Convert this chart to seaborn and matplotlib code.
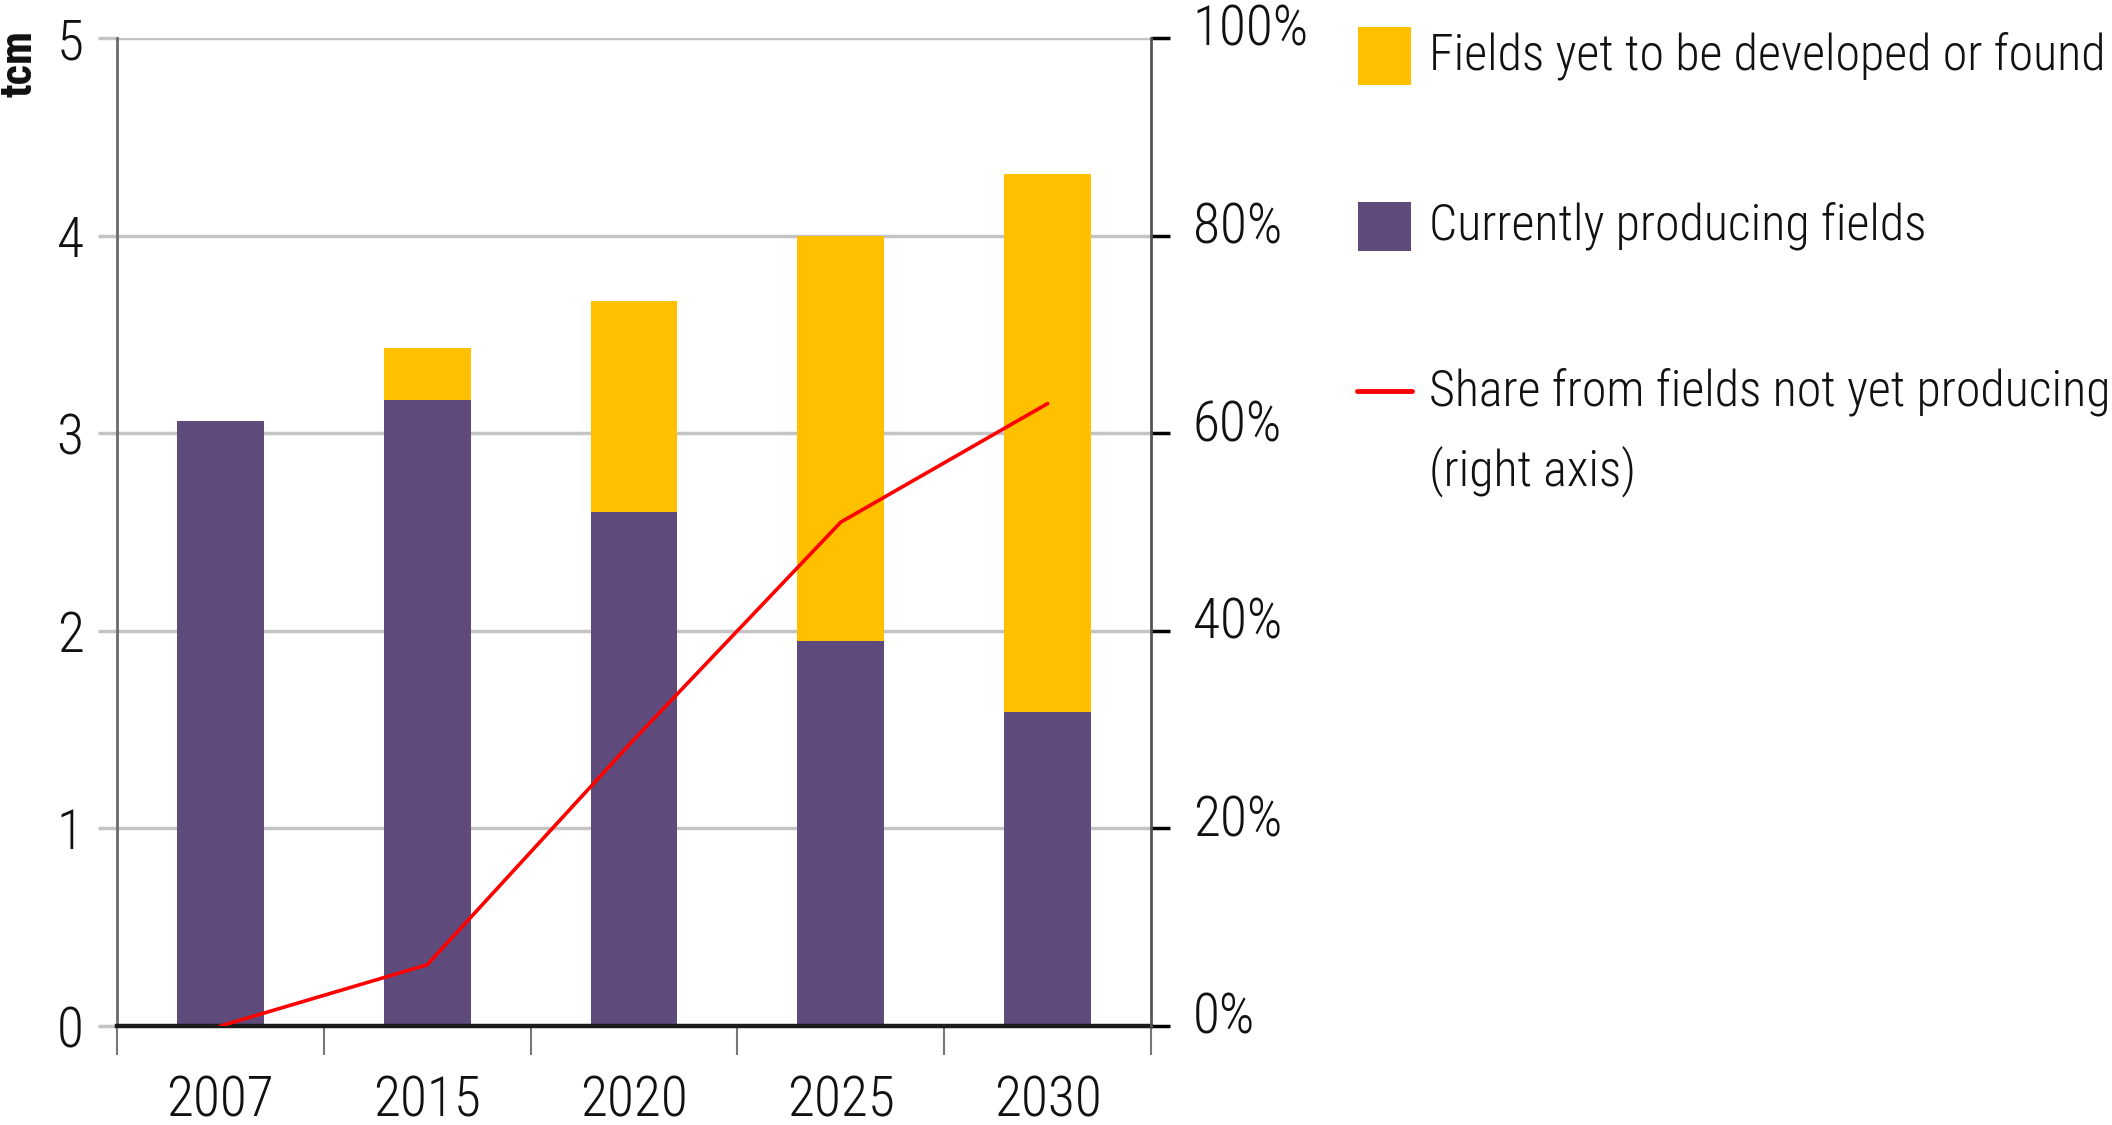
import numpy as np
import pandas as pd
import matplotlib
matplotlib.use('Agg')
import matplotlib.pyplot as plt
import seaborn as sns
from matplotlib.patches import Rectangle
from matplotlib.lines import Line2D
from matplotlib.ticker import PercentFormatter, FixedLocator
from matplotlib.transforms import ScaledTranslation

# values (tcm, share as fraction)
years = ['2007', '2015', '2020', '2025', '2030']
producing = [3.06, 3.17, 2.60, 1.95, 1.59]
yet_to_develop = [0.0, 0.26, 1.07, 2.05, 2.72]
share_not_producing = [0.0, 0.062, 0.29, 0.51, 0.63]

YELLOW = '#FFC000'
PURPLE = '#5F4B7B'
RED = '#FF0000'

sns.set_theme(style='white')
plt.rcParams['font.family'] = ['Roboto Condensed', 'DejaVu Sans']
plt.rcParams['font.weight'] = 300
plt.rcParams['text.color'] = '#111111'
plt.rcParams['xtick.color'] = '#111111'
plt.rcParams['ytick.color'] = '#111111'

df = pd.DataFrame({'year': years, 'producing': producing,
                   'yet': yet_to_develop, 'share': share_not_producing})
df['total'] = df['producing'] + df['yet']

W, H = 2112, 1125
fig = plt.figure(figsize=(W / 100, H / 100), dpi=100)
ax = fig.add_axes([117 / W, 1 - 1026 / H, (1151 - 117) / W, (1026 - 38) / H])

# stacked bars: total (yellow) underneath, producing (purple) on top of it
sns.barplot(data=df, x='year', y='total', color=YELLOW, width=0.42,
            saturation=1, errorbar=None, linewidth=0, ax=ax, zorder=2)
sns.barplot(data=df, x='year', y='producing', color=PURPLE, width=0.42,
            saturation=1, errorbar=None, linewidth=0, ax=ax, zorder=3)

ax.set_xlim(-0.5, 4.5)
ax.set_ylim(0, 5)
ax.set_yticks(range(0, 6))
ax.set_xlabel('')
ax.set_ylabel('')
ax.yaxis.grid(True, color='#c4c4c4', linewidth=2.5)
ax.set_axisbelow(True)

ax.spines['top'].set_visible(False)
ax.spines['right'].set_visible(False)
ax.spines['left'].set_color('#6a6a6a')
ax.spines['left'].set_linewidth(2)
ax.spines['bottom'].set_color('#1a1a1a')
ax.spines['bottom'].set_linewidth(3.2)
ax.spines['bottom'].set_zorder(5)

tick_size = 40
ax.xaxis.set_minor_locator(FixedLocator(np.arange(-0.5, 5, 1)))
ax.tick_params(axis='x', which='major', length=0, pad=35, labelsize=tick_size)
ax.tick_params(axis='x', which='minor', length=21, width=1.5, color='#777777',
               direction='out', bottom=True)
ax.tick_params(axis='y', which='major', length=14, width=2.5, color='#c4c4c4',
               pad=10, labelsize=tick_size, left=True)

# share line on right axis
ax2 = ax.twinx()
sns.lineplot(data=df, x='year', y='share', color=RED, linewidth=2.6, ax=ax2,
             zorder=6)
ax2.set_xlim(-0.5, 4.5)
ax2.set_ylim(0, 1)
ax2.set_yticks(np.arange(0, 1.01, 0.2))
ax2.yaxis.set_major_formatter(PercentFormatter(1.0, decimals=0))
ax2.set_ylabel('')
ax2.set_xlabel('')
for s in ['top', 'left', 'bottom']:
    ax2.spines[s].set_visible(False)
ax2.spines['right'].set_color('#555555')
ax2.spines['right'].set_linewidth(2)
ax2.tick_params(axis='y', which='major', length=14, width=2.5, color='black',
                pad=16, labelsize=tick_size, right=True)
ax2.grid(False)
# right-hand labels sit a little above their ticks in the original
shift = ScaledTranslation(0, 0.13, fig.dpi_scale_trans)
for lab in ax2.get_yticklabels():
    lab.set_transform(lab.get_transform() + shift)

fig.text(20 / W, 1 - 30 / H, 'tcm', rotation=90, ha='center', va='top',
         fontsize=32, fontweight='bold')

# legend, laid out like the reference
def fx(px):
    return px / W

def fy(py):
    return 1 - py / H

fig.add_artist(Rectangle((fx(1358), fy(85)), 53 / W, 58 / H,
                         facecolor=YELLOW, edgecolor='none',
                         transform=fig.transFigure))
fig.add_artist(Rectangle((fx(1358), fy(251)), 53 / W, 49 / H,
                         facecolor=PURPLE, edgecolor='none',
                         transform=fig.transFigure))
fig.add_artist(Line2D([fx(1357), fx(1412)], [fy(391), fy(391)], color=RED,
                      linewidth=3.5, transform=fig.transFigure))

leg_size = 36
fig.text(fx(1429), fy(70), 'Fields yet to be developed or found',
         va='baseline', ha='left', fontsize=leg_size)
fig.text(fx(1429), fy(240), 'Currently producing fields',
         va='baseline', ha='left', fontsize=leg_size)
fig.text(fx(1429), fy(405), 'Share from fields not yet producing',
         va='baseline', ha='left', fontsize=leg_size)
fig.text(fx(1429), fy(485), '(right axis)',
         va='baseline', ha='left', fontsize=leg_size)

fig.savefig('out.png', dpi=100)
